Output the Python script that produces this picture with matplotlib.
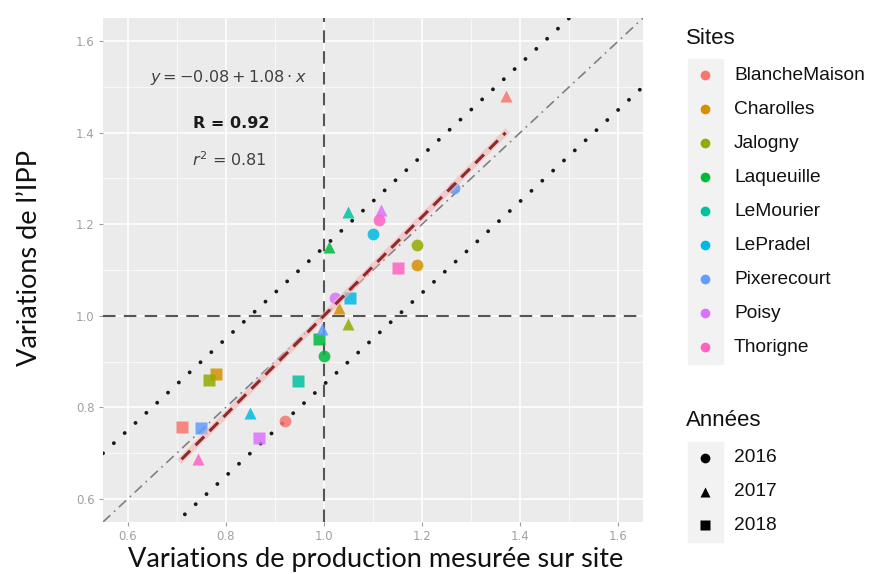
import matplotlib
matplotlib.use("Agg")
import matplotlib.pyplot as plt
from matplotlib.patches import Rectangle
import numpy as np

# Sites, years and measured points (x = production, y = IPP)
sites = ['BlancheMaison', 'Charolles', 'Jalogny', 'Laqueuille', 'LeMourier',
         'LePradel', 'Pixerecourt', 'Poisy', 'Thorigne']
site_colors = ['#F8766D', '#D39200', '#93AA00', '#00BA38', '#00C19F',
               '#00B9E3', '#619CFF', '#DB72FB', '#FF61C3']
years = ['2016', '2017', '2018']
year_markers = ['o', '^', 's']

pt_site = ['BlancheMaison', 'BlancheMaison', 'BlancheMaison',
           'Charolles', 'Charolles', 'Charolles',
           'Jalogny', 'Jalogny', 'Jalogny',
           'Laqueuille', 'Laqueuille', 'Laqueuille',
           'LeMourier', 'LeMourier',
           'LePradel', 'LePradel', 'LePradel',
           'Pixerecourt', 'Pixerecourt', 'Pixerecourt',
           'Poisy', 'Poisy', 'Poisy',
           'Thorigne', 'Thorigne', 'Thorigne']
pt_year = ['2016', '2017', '2018',
           '2016', '2017', '2018',
           '2016', '2017', '2018',
           '2016', '2017', '2018',
           '2017', '2018',
           '2016', '2017', '2018',
           '2016', '2017', '2018',
           '2016', '2017', '2018',
           '2016', '2017', '2018']
pt_x = [0.92, 1.37, 0.71,
        1.19, 1.03, 0.78,
        1.19, 1.05, 0.765,
        1.00, 1.01, 0.99,
        1.05, 0.948,
        1.10, 0.85, 1.054,
        1.265, 0.996, 0.75,
        1.023, 1.116, 0.868,
        1.113, 0.744, 1.15]
pt_y = [0.77, 1.48, 0.757,
        1.112, 1.016, 0.874,
        1.154, 0.983, 0.86,
        0.912, 1.151, 0.95,
        1.227, 0.857,
        1.178, 0.787, 1.038,
        1.28, 0.972, 0.755,
        1.038, 1.231, 0.734,
        1.209, 0.688, 1.105]

intercept, slope = -0.08, 1.08
band = 0.15

fig = plt.figure(figsize=(8.7, 5.74), dpi=100)
ax = fig.add_axes([103 / 870, 1 - 522 / 574, 540 / 870, 504 / 574])
ax.set_facecolor('#EBEBEB')
for s in ax.spines.values():
    s.set_visible(False)

lim = (0.55, 1.65)
ax.set_xlim(lim)
ax.set_ylim(lim)
ticks = [0.6, 0.8, 1.0, 1.2, 1.4, 1.6]
ax.set_xticks(ticks)
ax.set_yticks(ticks)
ax.set_xticks([0.7, 0.9, 1.1, 1.3, 1.5], minor=True)
ax.set_yticks([0.7, 0.9, 1.1, 1.3, 1.5], minor=True)
ax.set_xticklabels(['0.6', '0.8', '1.0', '1.2', '1.4', '1.6'])
ax.set_yticklabels(['0.6', '0.8', '1.0', '1.2', '1.4', '1.6'])
ax.grid(True, which='major', color='white', lw=1.1)
ax.grid(True, which='minor', color='white', lw=0.5)
ax.set_axisbelow(True)
ax.tick_params(which='major', colors='#A0A0A0', labelsize=8.5, length=3, width=0.8, pad=3)
ax.tick_params(which='minor', length=0)

xs = np.array(lim)
ax.plot(xs, xs, color='#808080', lw=1.2, ls=(0, (6, 3, 1, 3)), zorder=2)
for off in (band, -band):
    ax.plot(xs, xs + off, color='#1A1A1A', lw=2.8, ls=(0, (0.01, 3.8)),
            dash_capstyle='round', zorder=2)
ax.axvline(1.0, color='#555555', lw=1.5, ls=(0, (6, 4)), zorder=2)
ax.axhline(1.0, color='#555555', lw=1.5, ls=(0, (6, 4)), zorder=2)

for site, col in zip(sites, site_colors):
    for yr, mk in zip(years, year_markers):
        xx = [x for x, s, y in zip(pt_x, pt_site, pt_year) if s == site and y == yr]
        yy = [v for v, s, y in zip(pt_y, pt_site, pt_year) if s == site and y == yr]
        if xx:
            ax.plot(xx, yy, ls='none', marker=mk, ms=8.5, color=col, alpha=0.85,
                    mec='none', zorder=3)

rx = np.array([min(pt_x), max(pt_x)])
ax.plot(rx, intercept + slope * rx, color='#F4B6B6', lw=4.5, alpha=0.6, zorder=4)
ax.plot(rx, intercept + slope * rx, color='#8E2A2A', lw=2.2, ls=(0, (4, 2.5)), zorder=4)

ax.text(0.806, 1.52, r'$y = -0.08 + 1.08\cdot x$', ha='center', va='center',
        fontsize=11.5, color='#404040')
ax.text(0.812, 1.42, 'R = 0.92', ha='center', va='center', fontsize=11.5,
        fontweight='bold', color='#1A1A1A')
ax.text(0.808, 1.34, r'$r^2$ = 0.81', ha='center', va='center', fontsize=11.5,
        color='#404040')

fig.text(376 / 870, 1 - 559 / 574, 'Variations de production mesurée sur site',
         ha='center', va='center', fontsize=19.5, fontfamily='Lato', color='#111111')
fig.text(30 / 870, 1 - 258 / 574, 'Variations de l\u2019IPP', ha='center', va='center',
         rotation=90, fontsize=19.5, fontfamily='Lato', color='#111111')

# legends drawn in pixel space
lax = fig.add_axes([0, 0, 1, 1], facecolor='none')
lax.set_xlim(0, 870)
lax.set_ylim(574, 0)
lax.axis('off')

lax.text(686, 38, 'Sites', ha='left', va='center', fontsize=16,
         fontfamily='Liberation Sans', color='#111111')
for i, (site, col) in enumerate(zip(sites, site_colors)):
    cy = 75 + 34 * i
    lax.add_patch(Rectangle((688, cy - 16.5), 35, 33, color='#F2F2F2'))
    lax.plot([705.5], [cy], marker='o', ms=7, color=col, mec='none')
    lax.text(734, cy, site, ha='left', va='center', fontsize=13.8,
             fontfamily='Liberation Sans', color='#111111')

lax.text(686, 420, 'Années', ha='left', va='center', fontsize=16,
         fontfamily='Liberation Sans', color='#111111')
for i, (yr, mk) in enumerate(zip(years, year_markers)):
    cy = 458 + 33.5 * i
    lax.add_patch(Rectangle((688, cy - 16.5), 35, 33, color='#F2F2F2'))
    lax.plot([705.5], [cy], marker=mk, ms=7, color='black', mec='none')
    lax.text(734, cy, yr, ha='left', va='center', fontsize=13.8,
             fontfamily='Liberation Sans', color='#111111')

fig.savefig('out.png', dpi=100)
